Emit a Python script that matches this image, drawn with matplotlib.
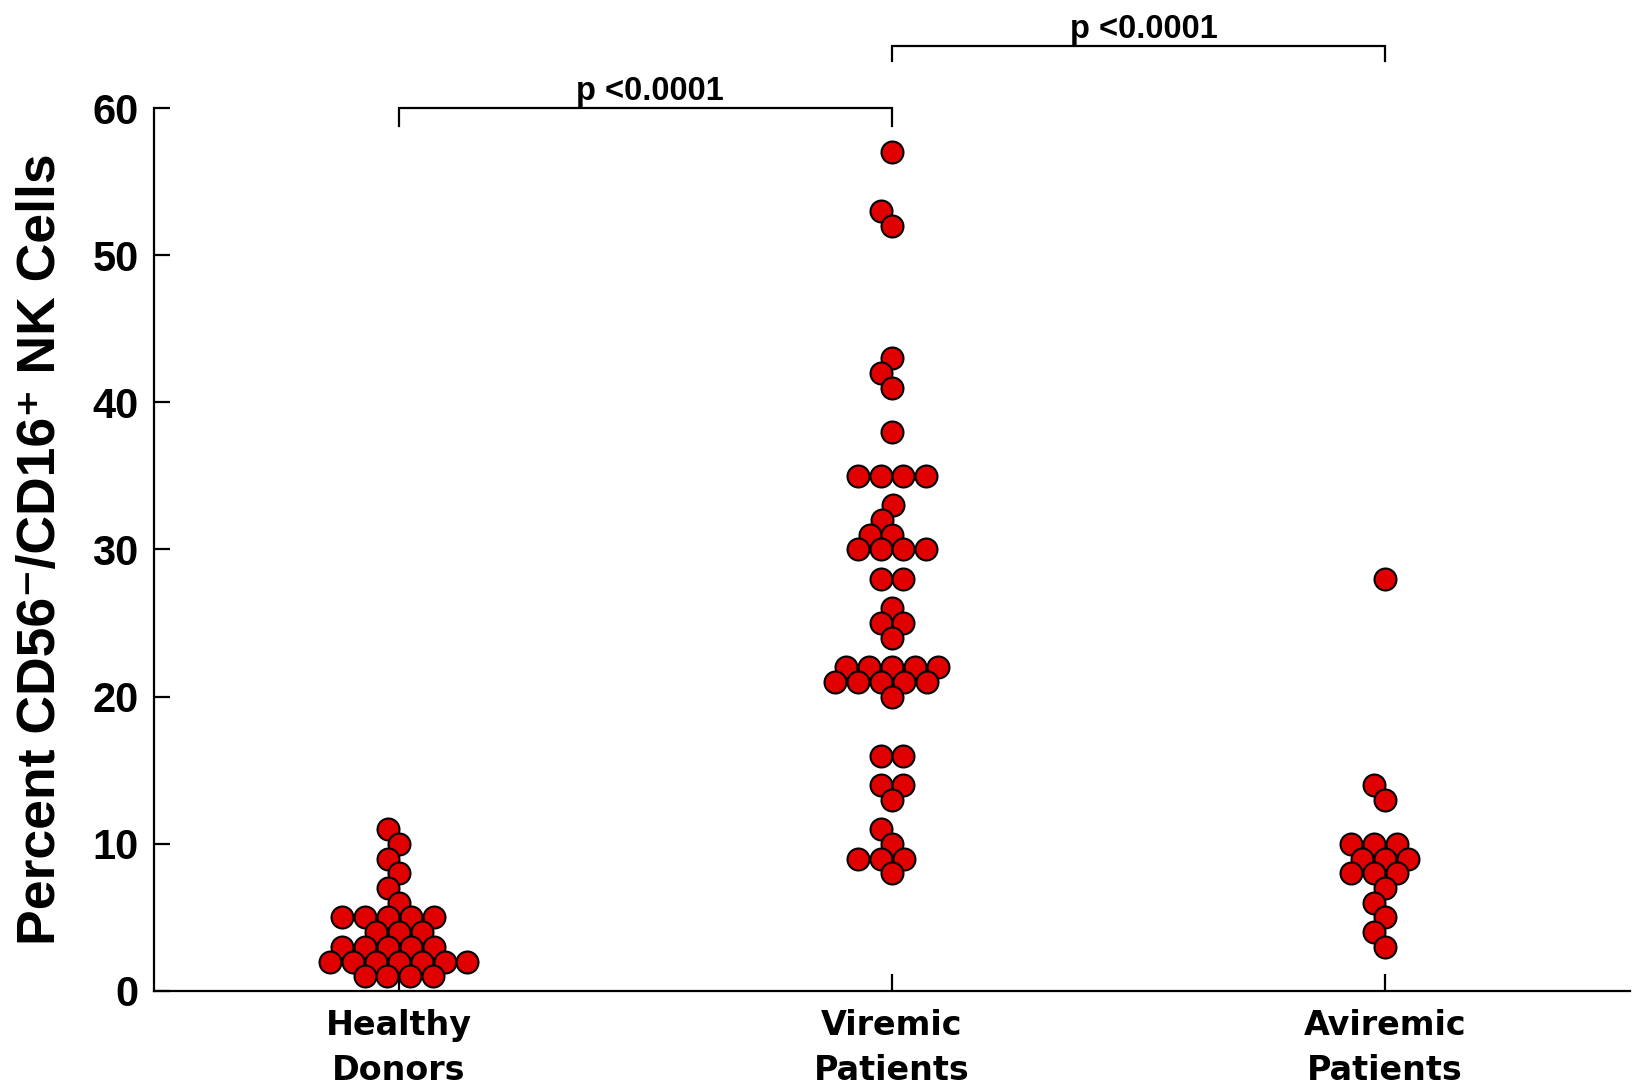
import numpy as np
import matplotlib
matplotlib.use("Agg")
import matplotlib.pyplot as plt

# ---- data -------------------------------------------------------------
groups = ["Healthy\nDonors", "Viremic\nPatients", "Aviremic\nPatients"]

healthy = [11, 10, 9, 8, 7, 6, 5, 5, 5, 5, 5, 4, 4, 4, 3, 3, 3, 3, 3,
           2, 2, 2, 2, 2, 2, 2, 1, 1, 1, 1]
viremic = [57, 53, 52, 43, 42, 41, 38, 35, 35, 35, 35, 33, 32, 31, 31,
           30, 30, 30, 30, 28, 28, 26, 25, 25, 24, 22, 22, 22, 22, 22,
           21, 21, 21, 21, 21, 20, 16, 16, 14, 14, 13, 11, 10, 9, 9, 9, 8]
aviremic = [28, 14, 13, 10, 10, 10, 9, 9, 9, 8, 8, 8, 7, 6, 5, 4, 3]

yticks = [0, 10, 20, 30, 40, 50, 60]

# (left group, right group, label)
comparisons = [(0, 1, "p <0.0001"), (1, 2, "p <0.0001")]

# ---- style ------------------------------------------------------------
RED = "#e00000"
MARKER_PT = 15.8
EDGE_PT = 1.5
SPINE_PT = 1.6

fig = plt.figure(figsize=(16.33, 10.91), dpi=100)
ax = fig.add_axes([0.0943, 0.0917, 0.9039, 0.8093])
ax.set_xlim(0.5035, 3.4965)
ax.set_ylim(0, 60)


def swarm_offsets(ax, xc, values, diam_px, same=0.95, other=0.76):
    """Beeswarm-style horizontal offsets (in data units) for one column.

    Equal values are laid out as a centred row; rows are stacked from the
    bottom up, each shifted sideways just enough to keep clear of the rows
    already placed.
    """
    values = np.asarray(values, dtype=float)
    pts = ax.transData.transform(np.column_stack([np.full(len(values), xc), values]))
    ys = pts[:, 1]
    px_per_x = (ax.transData.transform([[xc + 1, 0]])[0, 0]
                - ax.transData.transform([[xc, 0]])[0, 0])
    dmin = diam_px * other
    placed = []
    offs = np.zeros(len(values))

    def clear(xs, y):
        for x in xs:
            for (px, py) in placed:
                if (x - px) ** 2 + (y - py) ** 2 < dmin ** 2 - 1e-6:
                    return False
        return True

    for v in sorted(set(values)):
        idx = np.where(values == v)[0]
        n = len(idx)
        y = ys[idx[0]]
        rel = (np.arange(n) - (n - 1) / 2.0) * diam_px * same
        chosen = None
        for step in range(0, int(3 * diam_px / 0.5)):
            for s in ((1,) if step == 0 else (-1, 1)):
                c = s * step * 0.5
                if clear(rel + c, y):
                    chosen = rel + c
                    break
            if chosen is not None:
                break
        if chosen is None:
            # place points one at a time, nearest to the centre line
            chosen = []
            for _ in range(n):
                for step in range(0, 2000):
                    hit = None
                    for s in ((1,) if step == 0 else (-1, 1)):
                        c = s * step * 0.5
                        if clear([c], y) and all(abs(c - q) >= diam_px * same for q in chosen):
                            hit = c
                            break
                    if hit is not None:
                        chosen.append(hit)
                        break
            chosen = np.array(chosen)
        offs[idx] = chosen
        placed.extend((x, y) for x in chosen)
    return offs / px_per_x


diam_px = (MARKER_PT + EDGE_PT) * fig.dpi / 72.0
for i, vals in enumerate([healthy, viremic, aviremic]):
    xc = i + 1
    dx = swarm_offsets(ax, xc, vals, diam_px)
    ax.scatter(xc + dx, vals, s=MARKER_PT ** 2, facecolor=RED,
               edgecolor="black", linewidths=EDGE_PT, zorder=3, clip_on=False)

# ---- axes ---------------------------------------------------------------
for side in ("top", "right"):
    ax.spines[side].set_visible(False)
for side in ("left", "bottom"):
    ax.spines[side].set_linewidth(SPINE_PT)
    ax.spines[side].set_color("black")

ax.set_yticks(yticks)
ax.set_yticklabels([str(t) for t in yticks])
ax.tick_params(axis="y", direction="in", length=11.5, width=SPINE_PT, pad=11)
ax.set_xticks([1, 2, 3])
ax.set_xticklabels(groups, linespacing=1.45)
ax.tick_params(axis="x", direction="in", length=12, width=SPINE_PT, pad=13)

for lab in ax.get_yticklabels():
    lab.set_fontfamily(["Liberation Sans", "DejaVu Sans"])
    lab.set_fontweight("bold")
    lab.set_fontsize(30)
for lab in ax.get_xticklabels():
    lab.set_fontfamily(["DejaVu Sans"])
    lab.set_fontweight("bold")
    lab.set_fontsize(24)

fig.text(0.025, 0.0917 + 0.8093 / 2,
         "Percent CD56\u207b/CD16\u207a NK Cells",
         rotation=90, ha="center", va="center", rotation_mode="anchor",
         fontsize=38.5, fontweight="bold",
         family=["Liberation Sans", "DejaVu Sans"])

# ---- significance brackets --------------------------------------------
bracket_y = [60.0, 64.2]
drop = [1.2, 1.0]
for (a, b, txt), yb, dy in zip(comparisons, bracket_y, drop):
    xa, xb = a + 1, b + 1
    ax.plot([xa, xa, xb, xb], [yb - dy, yb, yb, yb - dy], color="black",
            lw=1.6, clip_on=False, solid_joinstyle="miter")
    ax.text((xa + xb) / 2 + 0.01, yb + 0.55, txt, ha="center", va="baseline",
            fontsize=23.5, fontweight="bold",
            family=["Liberation Sans", "DejaVu Sans"],
            clip_on=False)

fig.savefig("out.png", dpi=100, facecolor="white")
